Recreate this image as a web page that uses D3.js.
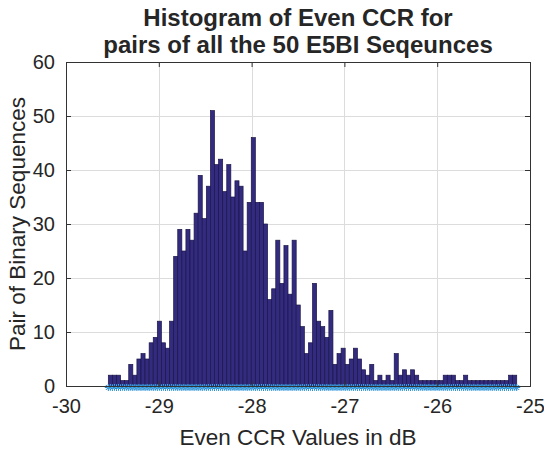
<!DOCTYPE html>
<html>
<head>
<meta charset="utf-8">
<script src="https://cdn.jsdelivr.net/npm/d3@7"></script>
<style>
  html, body { margin: 0; padding: 0; background: #fff; }
  svg { display: block; }
  text { font-family: "Liberation Sans", Arial, Helvetica, sans-serif; fill: #262626; }
</style>
</head>
<body>
<svg id="chart" width="544" height="452"></svg>
<script>
// ---- data ----
const titleLines = ["Histogram of Even CCR for", "pairs of all the 50 E5BI Seqeunces"];
const xLabel = "Even CCR Values in dB";
const yLabel = "Pair of Binary Sequences";
const xDomain = [-30, -25];
const yDomain = [0, 60];
const xTicks = [-30, -29, -28, -27, -26, -25];
const yTicks = [0, 10, 20, 30, 40, 50, 60];
const binRange = [-29.544, -25.143];   // first bin left edge, last bin right edge (dB)
const counts = [
  2, 2, 2, 1, 1, 4, 2, 5, 6, 5,
  8, 9, 12, 8, 7, 12, 24, 29, 25, 29,
  27, 32, 39, 31, 37, 51, 41, 42, 36, 41,
  35, 38, 37, 25, 34, 46, 34, 34, 30, 16,
  18, 27, 19, 26, 17, 27, 15, 11, 6, 8,
  19, 12, 11, 9, 14, 4, 6, 7, 4, 5,
  7, 5, 3, 2, 4, 1, 2, 1, 2, 1,
  6, 2, 3, 2, 3, 2, 1, 1, 1, 1,
  1, 1, 2, 2, 2, 1, 1, 2, 1, 1,
  1, 1, 1, 1, 1, 1, 1, 1, 2, 2
];

// ---- layout ----
const plot = { left: 66, right: 530, top: 62, bottom: 386 };
const svg = d3.select("#chart");

const x = d3.scaleLinear().domain(xDomain).range([plot.left, plot.right]);
const y = d3.scaleLinear().domain(yDomain).range([plot.bottom, plot.top]);

const binW = (binRange[1] - binRange[0]) / counts.length;
const bins = counts.map((c, i) => ({
  x0: binRange[0] + i * binW,
  x1: binRange[0] + (i + 1) * binW,
  c
}));

// grid
const grid = svg.append("g").attr("stroke", "#dcdcdc").attr("stroke-width", 1);
grid.selectAll("line.gx").data(xTicks.slice(1, -1)).join("line")
  .attr("x1", d => Math.round(x(d)) + 0.5).attr("x2", d => Math.round(x(d)) + 0.5)
  .attr("y1", plot.top).attr("y2", plot.bottom);
grid.selectAll("line.gy").data(yTicks.slice(1, -1)).join("line")
  .attr("y1", d => Math.round(y(d)) + 0.5).attr("y2", d => Math.round(y(d)) + 0.5)
  .attr("x1", plot.left).attr("x2", plot.right);

// bars
svg.append("g").selectAll("rect").data(bins).join("rect")
  .attr("x", d => x(d.x0))
  .attr("width", d => x(d.x1) - x(d.x0))
  .attr("y", d => y(d.c))
  .attr("height", d => y(0) - y(d.c))
  .attr("fill", "#332b80")
  .attr("stroke", "#1a1545")
  .attr("stroke-width", 0.7);

// star markers at bin edges and centres on the baseline
const binW2 = binW / 2;
const markers = d3.range(counts.length * 2 + 1).map(i => binRange[0] + i * binW2);
const star = "M-3.5,0H3.5M0,-3.5V3.5M-2.5,-2.5L2.5,2.5M-2.5,2.5L2.5,-2.5";
svg.append("g").selectAll("path").data(markers).join("path")
  .attr("transform", d => `translate(${x(d)},${y(0) + 1.5})`)
  .attr("d", star)
  .attr("stroke", (d, i) => i % 2 ? "#48aee6" : "#2a86cc")
  .attr("stroke-width", 1)
  .attr("fill", "none");

// axes (box with inward ticks)
const axisColor = "#333";
const tickLen = 5;
const fmt = d => String(d);
const xb = svg.append("g").attr("transform", `translate(0,${plot.bottom})`)
  .call(d3.axisBottom(x).tickValues(xTicks).tickSize(-tickLen).tickPadding(13).tickFormat(fmt));
const xt = svg.append("g").attr("transform", `translate(0,${plot.top})`)
  .call(d3.axisTop(x).tickValues(xTicks).tickSize(-tickLen).tickFormat(""));
const yl = svg.append("g").attr("transform", `translate(${plot.left},0)`)
  .call(d3.axisLeft(y).tickValues(yTicks).tickSize(-tickLen).tickPadding(11).tickFormat(fmt));
const yr = svg.append("g").attr("transform", `translate(${plot.right},0)`)
  .call(d3.axisRight(y).tickValues(yTicks).tickSize(-tickLen).tickFormat(""));

[xb, xt, yl, yr].forEach(g => {
  g.select(".domain").attr("stroke", axisColor).attr("stroke-width", 1);
  g.selectAll(".tick line").attr("stroke", axisColor);
  g.selectAll("text").attr("font-size", "20px")
    .attr("font-family", "Liberation Sans, Arial, sans-serif").attr("fill", "#262626");
});
xb.selectAll(".tick text").attr("dy", "0.71em");

// labels
svg.append("text")
  .attr("x", (plot.left + plot.right) / 2).attr("y", 445)
  .attr("text-anchor", "middle").attr("font-size", "22.5px")
  .text(xLabel);

svg.append("text")
  .attr("transform", `translate(25,${(plot.top + plot.bottom) / 2}) rotate(-90)`)
  .attr("text-anchor", "middle").attr("font-size", "22.5px")
  .text(yLabel);

svg.append("g").selectAll("text").data(titleLines).join("text")
  .attr("x", (plot.left + plot.right) / 2)
  .attr("y", (d, i) => 26 + i * 27)
  .attr("text-anchor", "middle")
  .attr("font-size", "24px").attr("font-weight", "bold")
  .attr("fill", "#000")
  .text(d => d);
</script>
</body>
</html>
